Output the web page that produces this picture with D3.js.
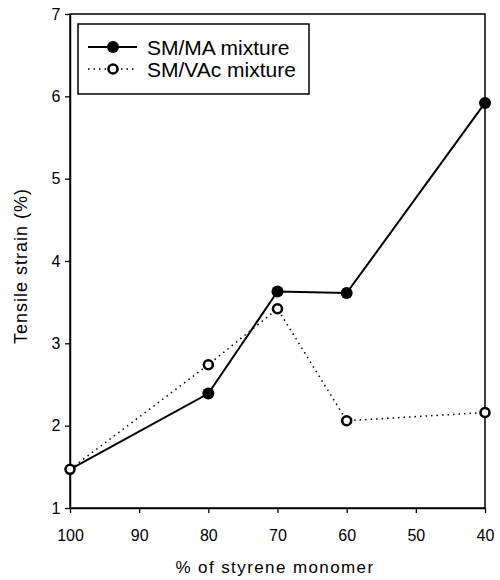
<!DOCTYPE html>
<html>
<head>
<meta charset="utf-8">
<script src="https://cdn.jsdelivr.net/npm/d3@7"></script>
<style>
  body { margin: 0; background: #fff; }
  svg { font-family: "Liberation Sans", Arial, sans-serif; }
</style>
</head>
<body>
<div id="chart"></div>
<script>
/* Tensile strain vs styrene content */

const styrene = [100, 80, 70, 60, 40];
const smMA = [1.47, 2.39, 3.63, 3.61, 5.92];
const smVAc = [1.47, 2.74, 3.42, 2.06, 2.16];
const xTicks = [100, 90, 80, 70, 60, 50, 40];
const yTicks = [1, 2, 3, 4, 5, 6, 7];

const width = 500, height = 580;
const margin = { top: 14, right: 15, bottom: 72, left: 70 };

const svg = d3.select("#chart")
  .append("svg")
  .attr("width", width)
  .attr("height", height);

const x = d3.scaleLinear().domain([100, 40]).range([margin.left, width - margin.right]);
const y = d3.scaleLinear().domain([1, 7]).range([height - margin.bottom, margin.top]);

// Frame
svg.append("rect")
  .attr("x", x(100))
  .attr("y", y(7))
  .attr("width", x(40) - x(100))
  .attr("height", y(1) - y(7))
  .attr("fill", "none")
  .attr("stroke", "#000")
  .attr("stroke-width", 1.5);

// Axes
const xAxis = svg.append("g")
  .attr("transform", `translate(0,${y(1)})`)
  .call(d3.axisBottom(x).tickValues(xTicks).tickSize(5).tickSizeOuter(0).tickFormat(d3.format("d")));
const yAxis = svg.append("g")
  .attr("transform", `translate(${x(100)},0)`)
  .call(d3.axisLeft(y).tickValues(yTicks).tickSize(5).tickSizeOuter(0).tickFormat(d3.format("d")));

[xAxis, yAxis].forEach(g => {
  g.select(".domain").attr("stroke-width", 1.5);
  g.selectAll(".tick line").attr("stroke-width", 1.3);
  g.selectAll("text").attr("font-size", 16).attr("fill", "#000")
    .attr("font-family", "\"Liberation Sans\", Arial, sans-serif");
});
xAxis.selectAll("text").attr("dy", "1.55em");
yAxis.selectAll("text").attr("dx", "-0.1em");

// Axis titles
svg.append("text")
  .attr("x", 275)
  .attr("y", 573)
  .attr("text-anchor", "middle")
  .attr("font-size", 17)
  .attr("letter-spacing", 1.4)
  .text("% of styrene monomer");

svg.append("text")
  .attr("transform", "translate(27,266) rotate(-90)")
  .attr("text-anchor", "middle")
  .attr("font-size", 18)
  .attr("letter-spacing", 1)
  .text("Tensile strain (%)");

const line = d3.line()
  .x((d, i) => x(styrene[i]))
  .y(d => y(d));

// SM/VAc series (dotted, open markers)
svg.append("path")
  .datum(smVAc)
  .attr("d", line)
  .attr("fill", "none")
  .attr("stroke", "#000")
  .attr("stroke-width", 1.5)
  .attr("stroke-dasharray", "1.5,4");

// SM/MA series (solid, filled markers)
svg.append("path")
  .datum(smMA)
  .attr("d", line)
  .attr("fill", "none")
  .attr("stroke", "#000")
  .attr("stroke-width", 2);

svg.selectAll(".open-pt")
  .data(smVAc)
  .join("circle")
  .attr("class", "open-pt")
  .attr("cx", (d, i) => x(styrene[i]))
  .attr("cy", d => y(d))
  .attr("r", 4.5)
  .attr("fill", "#fff")
  .attr("stroke", "#000")
  .attr("stroke-width", 2.6);

svg.selectAll(".filled-pt")
  .data(smMA)
  .join("circle")
  .attr("class", "filled-pt")
  .attr("cx", (d, i) => x(styrene[i]))
  .attr("cy", d => y(d))
  .attr("r", 6)
  .attr("fill", "#000")
  .filter((d, i) => i === 0)
  .remove();

// Legend
const legend = svg.append("g");
legend.append("rect")
  .attr("x", 78)
  .attr("y", 24)
  .attr("width", 231)
  .attr("height", 70)
  .attr("fill", "#fff")
  .attr("stroke", "#000")
  .attr("stroke-width", 1.5);

const entries = [
  { label: "SM/MA mixture", dash: null, filled: true },
  { label: "SM/VAc mixture", dash: "1.5,4", filled: false }
];

entries.forEach((e, i) => {
  const cy = 47 + i * 22;
  legend.append("line")
    .attr("x1", 88).attr("x2", 137)
    .attr("y1", cy).attr("y2", cy)
    .attr("stroke", "#000")
    .attr("stroke-width", e.filled ? 2 : 1.5)
    .attr("stroke-dasharray", e.dash);
  legend.append("circle")
    .attr("cx", 113).attr("cy", cy)
    .attr("r", e.filled ? 6 : 4.5)
    .attr("fill", e.filled ? "#000" : "#fff")
    .attr("stroke", e.filled ? "none" : "#000")
    .attr("stroke-width", 2.6);
  legend.append("text")
    .attr("x", 147)
    .attr("y", cy)
    .attr("dy", "0.36em")
    .attr("font-size", 21)
    .text(e.label);
});
</script>
</body>
</html>
